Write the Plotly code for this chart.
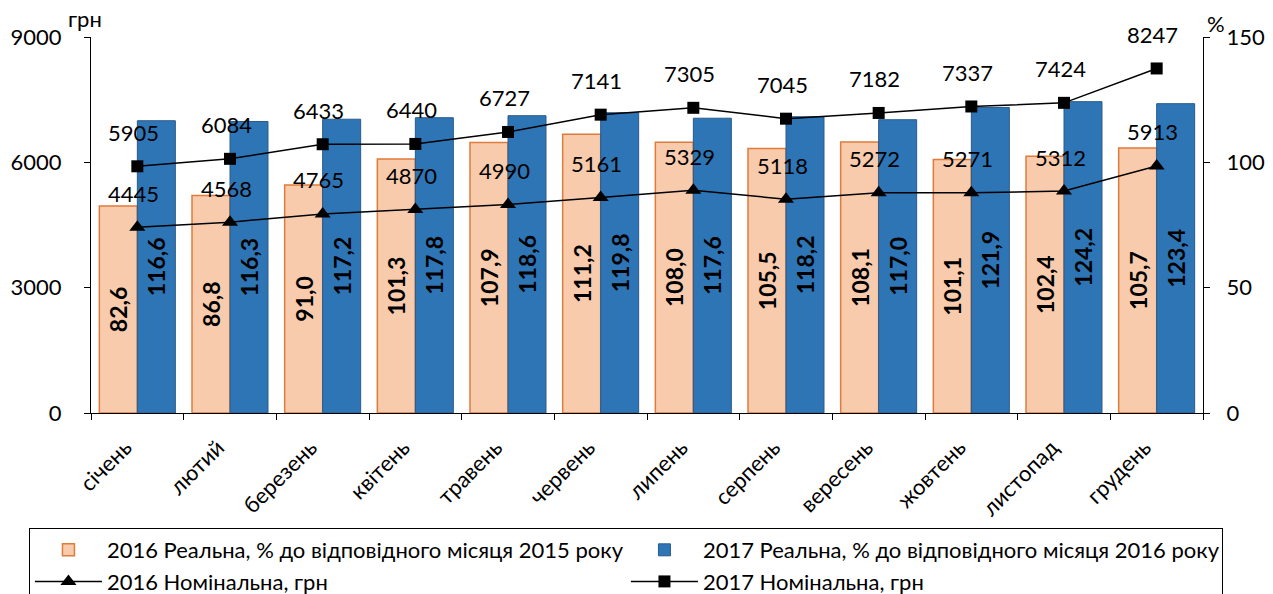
import plotly.graph_objects as go

months = ["січень", "лютий", "березень", "квітень", "травень", "червень",
          "липень", "серпень", "вересень", "жовтень", "листопад", "грудень"]

real_2016 = [82.6, 86.8, 91.0, 101.3, 107.9, 111.2, 108.0, 105.5, 108.1, 101.1, 102.4, 105.7]
real_2017 = [116.6, 116.3, 117.2, 117.8, 118.6, 119.8, 117.6, 118.2, 117.0, 121.9, 124.2, 123.4]
nominal_2016 = [4445, 4568, 4765, 4870, 4990, 5161, 5329, 5118, 5272, 5271, 5312, 5913]
nominal_2017 = [5905, 6084, 6433, 6440, 6727, 7141, 7305, 7045, 7182, 7337, 7424, 8247]

FONT = "Lato"

fig = go.Figure()

# Real wage index bars (% axis, right side)
fig.add_trace(go.Bar(
    x=months, y=real_2016, name="2016 Реальна, % до відповідного місяця 2015 року",
    marker=dict(color="#F8CBAD", line=dict(color="#E07B39", width=1.5)),
    texttemplate="<b>%{y:.1f}</b>", textposition="inside", insidetextanchor="middle",
    textangle=-90, textfont=dict(family=FONT, size=23, color="black"),
    yaxis="y",
))
fig.add_trace(go.Bar(
    x=months, y=real_2017, name="2017 Реальна, % до відповідного місяця 2016 року",
    marker=dict(color="#2E75B6", line=dict(color="#2A5A8A", width=1)),
    texttemplate="<b>%{y:.1f}</b>", textposition="inside", insidetextanchor="middle",
    textangle=-90, textfont=dict(family=FONT, size=23, color="black"),
    yaxis="y",
))

# Nominal wage lines (грн axis, left side)
fig.add_trace(go.Scatter(
    x=months, y=nominal_2016, name="2016 Номінальна, грн",
    mode="lines+markers",
    line=dict(color="black", width=1.5),
    marker=dict(symbol="triangle-up", size=14, color="black"),
    yaxis="y2", cliponaxis=False,
))
fig.add_trace(go.Scatter(
    x=months, y=nominal_2017, name="2017 Номінальна, грн",
    mode="lines+markers",
    line=dict(color="black", width=1.5),
    marker=dict(symbol="square", size=12, color="black"),
    yaxis="y2", cliponaxis=False,
))

# Value labels above the line points
value_labels = []
for series in (nominal_2016, nominal_2017):
    for m, v in zip(months, series):
        value_labels.append(dict(
            x=m, y=v, xref="x", yref="y2", text=str(v), showarrow=False,
            xanchor="center", yanchor="middle", yshift=34, xshift=-4,
            font=dict(family=FONT, size=22, color="black"),
        ))

fig.update_layout(
    width=1273, height=594,
    margin=dict(l=91, r=70, t=37, b=181, autoexpand=False),
    plot_bgcolor="white", paper_bgcolor="white",
    font=dict(family=FONT, size=21, color="black"),
    separators=", ",
    barmode="group", bargap=0.18, bargroupgap=0,
    uniformtext=dict(minsize=8, mode="show"),
    xaxis=dict(
        type="category", range=[-0.5, 11.5], autorange=False, automargin=False,
        showline=True, linecolor="black", linewidth=1,
        ticks="outside", tickson="boundaries", ticklen=6, tickcolor="black",
        tickangle=-45, tickfont=dict(family=FONT, size=22),
        ticklabelshift=-12, ticklabelstandoff=12,
        showgrid=False, zeroline=False,
    ),
    yaxis=dict(
        side="right", range=[0, 150], tickvals=[0, 50, 100, 150], automargin=False,
        showline=True, linecolor="black", linewidth=1,
        ticks="outside", ticklen=6, tickcolor="black", ticklabelstandoff=12,
        showgrid=False, zeroline=False, tickfont=dict(family=FONT, size=22),
    ),
    yaxis2=dict(
        overlaying="y", side="left", range=[0, 9000], tickvals=[0, 3000, 6000, 9000],
        automargin=False,
        showline=True, linecolor="black", linewidth=1,
        ticks="outside", ticklen=6, tickcolor="black", ticklabelstandoff=18,
        showgrid=False, zeroline=False, tickfont=dict(family=FONT, size=22),
    ),
    legend=dict(
        orientation="h", x=-0.0558, xanchor="left", y=-0.3059, yanchor="top",
        entrywidth=514, entrywidthmode="pixels",
        bordercolor="black", borderwidth=1, bgcolor="white",
        font=dict(family=FONT, size=22), itemwidth=67,
        traceorder="normal",
    ),
    annotations=value_labels + [
        dict(text="грн", xref="paper", yref="paper", x=-0.0225, y=1.048,
             xanchor="left", yanchor="middle", showarrow=False,
             font=dict(family=FONT, size=22)),
        dict(text="%", xref="paper", yref="paper", x=1.0018, y=1.0346,
             xanchor="left", yanchor="middle", showarrow=False,
             font=dict(family=FONT, size=22)),
    ],
)

fig.write_html("out.html")
